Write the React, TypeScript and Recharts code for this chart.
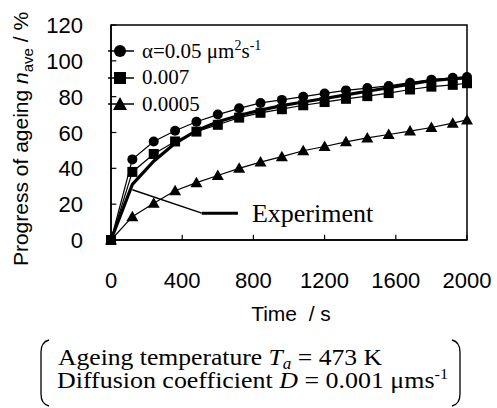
import React from 'react';
import { LineChart, Line, XAxis, YAxis, ReferenceLine, ReferenceDot, ReferenceArea } from 'recharts';

const times = [0, 120, 240, 360, 480, 600, 720, 840, 960, 1080, 1200, 1320, 1440, 1560, 1680, 1800, 1920, 2000];
const alpha005 = [0, 45, 55, 61, 66, 70, 73.5, 76.5, 78.2, 80, 81.8, 83.5, 84.8, 86, 87.8, 89.5, 90.5, 91];
const alpha0007 = [0, 38, 48, 55, 60.5, 64.3, 68.3, 71, 73, 75.2, 77, 78.8, 80.3, 82, 84, 85.6, 86.6, 87.5];
const alpha00005 = [0, 13, 20.5, 27.5, 32, 36, 40, 43.5, 46.5, 49.8, 52.2, 54.8, 57, 58.9, 60.8, 62.8, 65.2, 67];
const experiment = [0, 31, 44, 54, 61, 66, 69.5, 72.5, 75, 77, 79, 81, 83, 85, 87, 89, 90, 90.5];
const xTicks = [0, 400, 800, 1200, 1600, 2000];
const yTicks = [0, 20, 40, 60, 80, 100, 120];

const data = times.map((t, i) => ({
  t,
  a1: alpha005[i],
  a2: alpha0007[i],
  a3: alpha00005[i],
  exp: experiment[i],
}));

const SERIF = '"Liberation Serif", "Times New Roman", serif';
const SANS = '"Liberation Sans", Arial, sans-serif';

const CircleDot = (p: any) => <circle key={p.index} cx={p.cx} cy={p.cy} r={5} fill="#000" />;
const SquareDot = (p: any) => <rect key={p.index} x={p.cx - 5} y={p.cy - 5} width={10} height={10} fill="#000" />;
const TriDot = (p: any) => (
  <polygon key={p.index} points={`${p.cx},${p.cy - 6} ${p.cx - 6},${p.cy + 4.5} ${p.cx + 6},${p.cy + 4.5}`} fill="#000" />
);

const YTick = (p: any) => (
  <text x={83} y={p.y} dy={8} textAnchor="end" fontFamily={SANS} fontSize={22} fill="#000">
    {p.payload.value}
  </text>
);

const LegendIcon = ({ kind }: { kind: string }) => (
  <svg width={26} height={16} style={{ display: 'block' }}>
    <line x1={0} y1={8} x2={26} y2={8} stroke="#000" strokeWidth={1.5} />
    {kind === 'c' && <circle cx={12} cy={8} r={6} fill="#000" />}
    {kind === 's' && <rect x={6} y={2} width={12} height={12} fill="#000" />}
    {kind === 't' && <polygon points="12,1 5,14 19,14" fill="#000" />}
  </svg>
);

const rowStyle: React.CSSProperties = {
  display: 'flex',
  alignItems: 'center',
  height: 26.5,
  fontFamily: SERIF,
  fontSize: 21,
  lineHeight: '21px',
  color: '#000',
  whiteSpace: 'nowrap',
};

const LegendBox = () => (
  <div style={{ position: 'absolute', left: 108, top: 38 }}>
    <div style={rowStyle}>
      <LegendIcon kind="c" />
      <span style={{ marginLeft: 8 }}>
        α=0.05 μm<sup style={{ fontSize: 14, lineHeight: 0 }}>2</sup>s<sup style={{ fontSize: 14, lineHeight: 0 }}>-1</sup>
      </span>
    </div>
    <div style={rowStyle}>
      <LegendIcon kind="s" />
      <span style={{ marginLeft: 8 }}>0.007</span>
    </div>
    <div style={rowStyle}>
      <LegendIcon kind="t" />
      <span style={{ marginLeft: 8 }}>0.0005</span>
    </div>
  </div>
);

const YLabel = () => (
  <text transform="translate(28,139) rotate(-90)" textAnchor="middle" fontFamily={SANS} fontSize={21} fill="#000">
    Progress of ageing <tspan fontStyle="italic">n</tspan>
    <tspan fontSize={15} dy={5}>ave</tspan>
    <tspan dy={-5}> / %</tspan>
  </text>
);

const XLabel = () => (
  <text x={291} y={321} textAnchor="middle" fontFamily={SANS} fontSize={21} fill="#000" style={{ whiteSpace: 'pre' }}>
    {'Time \u00a0/ s'}
  </text>
);

export default function App() {
  return (
    <div style={{ position: 'absolute', left: 0, top: 0, width: 497, height: 408, background: '#fff' }}>
      <LineChart width={497} height={408} data={data} margin={{ top: 25, right: 30, bottom: 78, left: 0 }}>
        <XAxis
          dataKey="t"
          type="number"
          domain={[0, 2000]}
          ticks={xTicks}
          height={90}
          tickSize={0}
          tickMargin={32}
          tickLine={false}
          axisLine={{ stroke: '#000', strokeWidth: 1.5 }}
          tick={{ fill: '#000', fontFamily: SANS, fontSize: 22 }}
          interval={0}
          label={<XLabel />}
        />
        <YAxis
          type="number"
          domain={[0, 120]}
          ticks={yTicks}
          width={111}
          tickSize={0}
          tickLine={false}
          axisLine={{ stroke: '#000', strokeWidth: 1.5 }}
          tick={<YTick />}
          interval={0}
          label={<YLabel />}
        />
        <ReferenceArea x1={0} x2={2000} y1={0} y2={120} fill="none" stroke="#000" strokeWidth={1.5} />
        {yTicks.map((v) => (
          <ReferenceLine key={'yt' + v} segment={[{ x: 0, y: v }, { x: 30, y: v }]} stroke="#000" strokeWidth={1.2} />
        ))}
        {xTicks.map((v) => (
          <ReferenceLine key={'xt' + v} segment={[{ x: v, y: 0 }, { x: v, y: 3 }]} stroke="#000" strokeWidth={1.2} />
        ))}
        <Line dataKey="exp" stroke="#000" strokeWidth={3.2} dot={false} isAnimationActive={false} />
        <Line dataKey="a1" stroke="#000" strokeWidth={1.2} dot={CircleDot} isAnimationActive={false} />
        <Line dataKey="a2" stroke="#000" strokeWidth={1.2} dot={SquareDot} isAnimationActive={false} />
        <Line dataKey="a3" stroke="#000" strokeWidth={1.2} dot={TriDot} isAnimationActive={false} />
        <ReferenceLine segment={[{ x: 120, y: 28 }, { x: 510, y: 15 }]} stroke="#000" strokeWidth={1.5} />
        <ReferenceLine segment={[{ x: 510, y: 15 }, { x: 713, y: 15 }]} stroke="#000" strokeWidth={3} />
        <ReferenceDot
          x={713}
          y={15}
          r={0}
          fill="none"
          stroke="none"
          label={{ value: 'Experiment', position: 'right', offset: 14, fill: '#000', fontFamily: SERIF, fontSize: 26 }}
        />
      </LineChart>
      <LegendBox />
      <svg width={497} height={408} style={{ position: 'absolute', left: 0, top: 0, pointerEvents: 'none' }}>
        <path d="M 49 340 Q 41 342 41 352 L 41 394 Q 41 404 49 406" fill="none" stroke="#000" strokeWidth={1.3} />
        <path d="M 452 340 Q 460 342 460 352 L 460 394 Q 460 404 452 406" fill="none" stroke="#000" strokeWidth={1.3} />
        <text x={58} y={365} fontFamily={SERIF} fontSize={24} fill="#000" textLength={324} lengthAdjust="spacingAndGlyphs">
          Ageing temperature <tspan fontStyle="italic">T</tspan>
          <tspan fontStyle="italic" fontSize={16} dy={4}>a</tspan>
          <tspan dy={-4}> = 473 K</tspan>
        </text>
        <text x={57} y={388} fontFamily={SERIF} fontSize={24} fill="#000" textLength={391} lengthAdjust="spacingAndGlyphs">
          Diffusion coefficient <tspan fontStyle="italic">D</tspan>
          <tspan> = 0.001 μms</tspan>
          <tspan fontSize={15} dy={-9}>-1</tspan>
        </text>
      </svg>
    </div>
  );
}
